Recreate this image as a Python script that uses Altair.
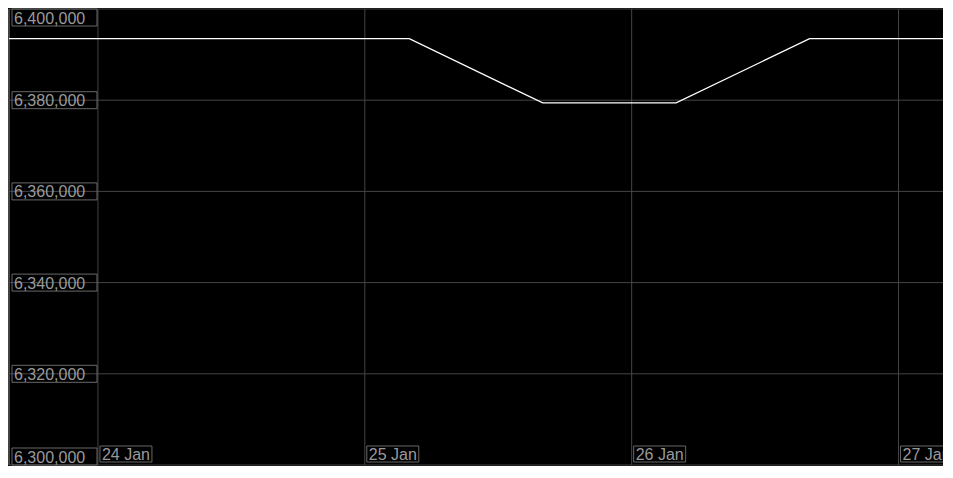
import altair as alt
import pandas as pd

# Data
times = [
    "2024-01-23T16:00:00Z", "2024-01-24T04:00:00Z", "2024-01-24T16:00:00Z",
    "2024-01-25T04:00:00Z", "2024-01-25T16:00:00Z", "2024-01-26T04:00:00Z",
    "2024-01-26T16:00:00Z", "2024-01-27T04:00:00Z",
]
values = [6393500, 6393500, 6393500, 6393500, 6379400, 6379400, 6393500, 6393500]

y_ticks = [6300000, 6320000, 6340000, 6360000, 6380000, 6400000]
y_labels = ["6,300,000", "6,320,000", "6,340,000", "6,360,000", "6,380,000", "6,400,000"]
x_ticks = ["2024-01-24T00:00:00Z", "2024-01-25T00:00:00Z", "2024-01-26T00:00:00Z", "2024-01-27T00:00:00Z"]
x_labels = ["24 Jan", "25 Jan", "26 Jan", "27 Jan"]

line_df = pd.DataFrame({"t": times, "v": values})
ydf = pd.DataFrame({"v": y_ticks, "label": y_labels})
xdf = pd.DataFrame({"t": x_ticks, "label": x_labels})

W, H = 934, 456
FONT = "Liberation Sans"
GRID = "#454545"
BOX = "#686868"
TXT = "#9a9a9a"

xs = alt.Scale(type="utc", domain=[times[0], times[-1]], nice=False)
ys = alt.Scale(domain=[6300000, 6400000], nice=False, zero=False)

X = lambda: alt.X("t:T", scale=xs, axis=None)
Y = lambda: alt.Y("v:Q", scale=ys, axis=None)

hgrid = alt.Chart(ydf).mark_rule(color=GRID, strokeWidth=1).encode(
    y=Y(), x=alt.value(0), x2=alt.value(W)
)
vgrid = alt.Chart(xdf).mark_rule(color=GRID, strokeWidth=1).encode(
    x=X(), y=alt.value(0), y2=alt.value(H)
)
left_edge = alt.Chart(ydf).mark_rule(color=GRID, strokeWidth=1).encode(
    x=alt.value(0), y=alt.value(0), y2=alt.value(H)
)

line = alt.Chart(line_df).mark_line(color="#ffffff", strokeWidth=1.3).encode(
    x=X(), y=Y()
)


def ylabel_layers(filt, shift):
    box = alt.Chart(ydf).transform_filter(filt).mark_point(
        shape=f"M0,{-8.5 + shift} L85,{-8.5 + shift} L85,{8.5 + shift} L0,{8.5 + shift} Z",
        size=4, filled=False, stroke=BOX, strokeWidth=1, opacity=1
    ).encode(y=Y(), x=alt.value(3))
    txt = alt.Chart(ydf).transform_filter(filt).mark_text(
        align="left", baseline="middle", font=FONT, fontSize=16, color=TXT, dy=1 + shift
    ).encode(y=Y(), x=alt.value(5), text="label:N")
    return [box, txt]


ylayers = (
    ylabel_layers(alt.datum.v == 6400000, 8.5)
    + ylabel_layers(alt.datum.v == 6300000, -8.5)
    + ylabel_layers((alt.datum.v > 6300000) & (alt.datum.v < 6400000), 0)
)

xbox = alt.Chart(xdf).mark_point(
    shape="M2,-8 L54,-8 L54,8 L2,8 Z", size=4, filled=False,
    stroke=BOX, strokeWidth=1, opacity=1
).encode(x=X(), y=alt.value(H - 11))

xtext = alt.Chart(xdf).mark_text(
    align="left", baseline="middle", font=FONT, fontSize=16, color=TXT, dx=4, dy=1
).encode(x=X(), y=alt.value(H - 11), text="label:N")

chart = alt.layer(hgrid, vgrid, left_edge, line, *ylayers, xbox, xtext).properties(
    width=W, height=H,
    background="#000000",
    padding={"top": 1, "left": 1, "right": 0, "bottom": 1},
    autosize=alt.AutoSizeParams(type="none"),
).configure_view(stroke=None, fill="#000000")

chart.save("out.html", embed_options={"renderer": "svg", "actions": False})
